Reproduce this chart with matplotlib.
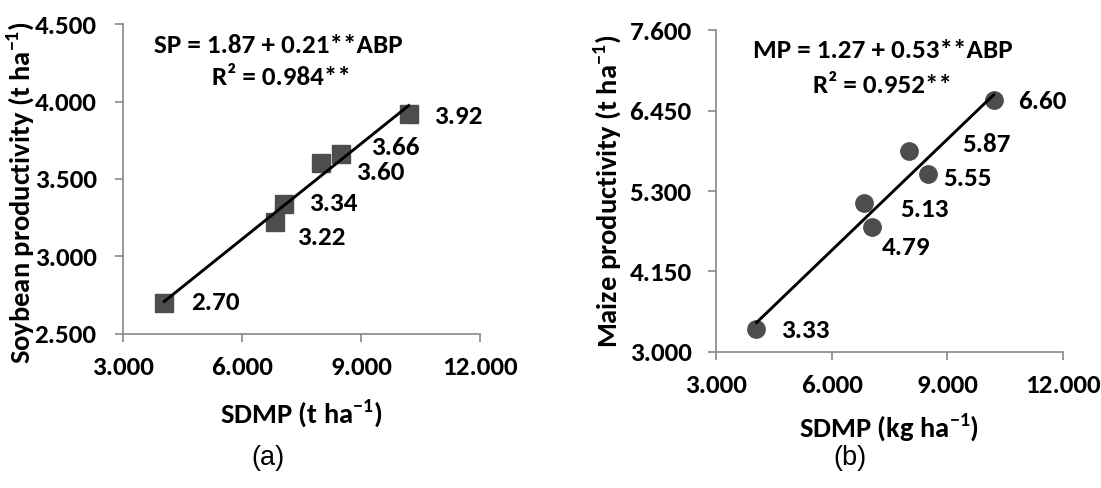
import numpy as np
import matplotlib
matplotlib.use("Agg")
import matplotlib.pyplot as plt

plt.rcParams['font.family'] = ['Carlito', 'DejaVu Sans']
plt.rcParams['font.weight'] = 'bold'

# data
sdmp = [4.04, 6.82, 7.06, 8.0, 8.5, 10.2]
soy = [2.70, 3.22, 3.34, 3.60, 3.66, 3.92]
maize_x = [4.05, 6.83, 7.04, 8.0, 8.5, 10.2]
maize = [3.33, 5.13, 4.79, 5.87, 5.55, 6.60]

soy_labels = ["2.70", "3.22", "3.34", "3.60", "3.66", "3.92"]
maize_labels = ["3.33", "5.13", "4.79", "5.87", "5.55", "6.60"]

x_ticks = [3, 6, 9, 12]
soy_yticks = [2.5, 3.0, 3.5, 4.0, 4.5]
maize_yticks = [3.0, 4.15, 5.3, 6.45, 7.6]

# label offsets in points (dx, dy)
soy_off = [(19, 0), (16.5, -11), (18, 0), (25, -6.5), (21.5, 5), (18, -2)]
maize_off = [(18, -1.3), (26.6, -5), (7, -15), (38.6, 5), (10.6, -3.3), (18, -1.3)]

fig = plt.figure(figsize=(11.01, 4.88), dpi=100)
ax1 = fig.add_axes([0.1117, 0.3156, 0.3243, 0.6352])
ax2 = fig.add_axes([0.6503, 0.2787, 0.3152, 0.6598])

spine_col = "#878787"
mark_col = "#4d4d4d"
fs = 19.5
fs_lab = 20.5


def style(ax, yticks, ypad):
    for s in ["top", "right"]:
        ax.spines[s].set_visible(False)
    for s in ["left", "bottom"]:
        ax.spines[s].set_color(spine_col)
        ax.spines[s].set_linewidth(1.2)
    ax.set_xlim(3, 12)
    ax.set_ylim(yticks[0], yticks[-1])
    ax.set_xticks(x_ticks)
    ax.set_yticks(yticks)
    ax.set_xticklabels(["%.3f" % v for v in x_ticks], fontweight="bold")
    ax.set_yticklabels(["%.3f" % v for v in yticks], fontweight="bold")
    ax.tick_params(axis="both", direction="out", length=6, width=1.2,
                   color=spine_col, labelsize=fs)
    ax.tick_params(axis="x", pad=10)
    ax.tick_params(axis="y", pad=ypad)


def draw(ax, x, y, labels, offs, marker):
    k, b = np.polyfit(x, y, 1)
    xs = np.array([min(x), max(x)])
    ax.plot(x, y, linestyle="none", marker=marker, markersize=12.5,
            color=mark_col, zorder=2, clip_on=False)
    ax.plot(xs, k * xs + b, color="black", linewidth=2.1, zorder=3)
    for xi, yi, t, o in zip(x, y, labels, offs):
        ax.annotate(t, (xi, yi), xytext=o, textcoords="offset points",
                    ha="left", va="center", fontsize=fs, fontweight="bold")


unit = r"ha$^{\mathregular{-1}}$)"

style(ax1, soy_yticks, 13)
draw(ax1, sdmp, soy, soy_labels, soy_off, "s")
ax1.set_xlabel("SDMP (t " + unit, fontsize=fs_lab, fontweight="bold", va="center")
ax1.xaxis.set_label_coords(0.5, -0.258)
ax1.set_ylabel("Soybean productivity (t " + unit, fontsize=fs_lab,
               fontweight="bold", va="center")
ax1.yaxis.set_label_coords(-0.2857, 0.458)
ax1.text(0.4356, 0.932, "SP = 1.87 + 0.21**ABP", transform=ax1.transAxes,
         ha="center", va="center", fontsize=fs, fontweight="bold")
ax1.text(0.4425, 0.827, "R² = 0.984**", transform=ax1.transAxes,
         ha="center", va="center", fontsize=fs, fontweight="bold")

style(ax2, maize_yticks, 11.5)
draw(ax2, maize_x, maize, maize_labels, maize_off, "o")
ax2.set_xlabel("SDMP (kg " + unit, fontsize=fs_lab, fontweight="bold", va="center")
ax2.xaxis.set_label_coords(0.5, -0.236)
ax2.set_ylabel("Maize productivity (t " + unit, fontsize=fs_lab,
               fontweight="bold", va="center")
ax2.yaxis.set_label_coords(-0.311, 0.5)
ax2.text(0.481, 0.935, "MP = 1.27 + 0.53**ABP", transform=ax2.transAxes,
         ha="center", va="center", fontsize=fs, fontweight="bold")
ax2.text(0.481, 0.829, "R² = 0.952**", transform=ax2.transAxes,
         ha="center", va="center", fontsize=fs, fontweight="bold")

fig.text(268 / 1101, 1 - 458 / 488, "(a)", ha="center", va="center",
         fontsize=19.5, fontweight="normal", family="Liberation Sans")
fig.text(850 / 1101, 1 - 458 / 488, "(b)", ha="center", va="center",
         fontsize=19.5, fontweight="normal", family="Liberation Sans")

fig.savefig("out.png", dpi=100)
